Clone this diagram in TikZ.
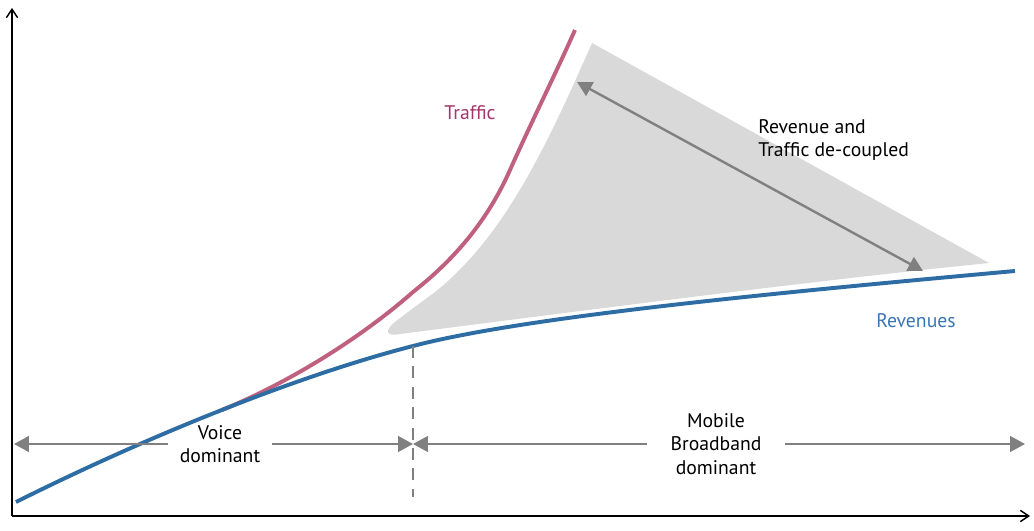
\documentclass[tikz,border=0pt]{standalone}
\usepackage{fontspec}
\setmainfont{PT Sans}
\usetikzlibrary{arrows.meta,positioning}
\definecolor{revblue}{HTML}{2E6DA4}
\definecolor{trafpink}{HTML}{C0607F}
\definecolor{trafword}{HTML}{A3346C}
\definecolor{revword}{HTML}{3A75B5}
\definecolor{zonegray}{HTML}{D9D9D9}
\definecolor{arrgray}{HTML}{808080}

\begin{document}
\begin{tikzpicture}[
    x=0.025cm, y=-0.025cm,
    axis/.style={-{Straight Barb[length=6pt,width=8pt]}, line width=1pt, black},
    revenue/.style={draw=revblue, line width=2.8pt},
    traffic/.style={draw=trafpink, line width=2.8pt},
    zone/.style={fill=zonegray},
    span/.style={{Triangle[length=10.5pt,width=11pt]}-{Triangle[length=10.5pt,width=11pt]},
                 draw=arrgray, line width=1.7pt},
    phase/.style={-{Triangle[length=10.5pt,width=11pt]}, draw=arrgray, line width=1.7pt},
    divider/.style={draw=arrgray, line width=1.4pt, dash pattern=on 8.5pt off 6pt},
    lbl/.style={font=\fontsize{14}{16.5}\selectfont, align=center, inner sep=0pt}
  ]
  \useasboundingbox (0,0) rectangle (1034,531);

  % shaded gap between the two curves
  \fill[zone] (400,334) .. controls (385,337) and (385,330) .. (395,322)
    .. controls (410,310) and (425,300) .. (440,288)
    .. controls (505,233) and (545,150) .. (592,43)
    -- (989,263)
    .. controls (800,282) and (550,315) .. (400,334) -- cycle;

  % axes
  \coordinate (origin) at (12,516);
  \coordinate (ytop)   at (12,8);
  \coordinate (xend)   at (1030,516);
  \draw[axis] (origin) -- (ytop);
  \draw[axis] (origin) -- (xend);

  % curves
  \coordinate (fork) at (222,410);
  \coordinate (knee) at (413,346);
  \draw[traffic] (fork) .. controls (300,378) and (370,330) .. (413,292)
    .. controls (460,255) and (490,215) .. (510,170)
    .. controls (530,125) and (555,75) .. (575,30);
  \draw[revenue] (16,502) .. controls (150,435) and (300,375) .. (knee)
    .. controls (520,318) and (750,295) .. (1015,271);

  \node (traf) [lbl, text=trafword] at (470,113) {Traffic};
  \node (rev)  [lbl, text=revword]  at (916,321) {Revenues};

  % de-coupling span
  \coordinate (spanA) at (577,82);
  \coordinate (spanB) at (923,271);
  \draw[span] (spanA) -- (spanB);
  \node (decouple) [lbl, align=left, anchor=west] at (758,140) {Revenue and\\Traffic de-coupled};

  % phase split
  \coordinate (dbot) at (413,497);
  \draw[divider] (knee) -- (dbot);

  \coordinate (vleft)  at (14,444);
  \coordinate (split)  at (413,444);
  \coordinate (mright) at (1025,444);
  \node (voice)  [lbl, minimum width=104*0.025cm] at (220,444) {Voice\\dominant};
  \node (mobile) [lbl, minimum width=138*0.025cm] at (716,444) {Mobile\\Broadband\\dominant};
  \draw[phase] (voice.west)  -- (vleft);
  \draw[phase] (voice.east)  -- (split);
  \draw[phase] (mobile.west) -- (split);
  \draw[phase] (mobile.east) -- (mright);
\end{tikzpicture}
\end{document}
